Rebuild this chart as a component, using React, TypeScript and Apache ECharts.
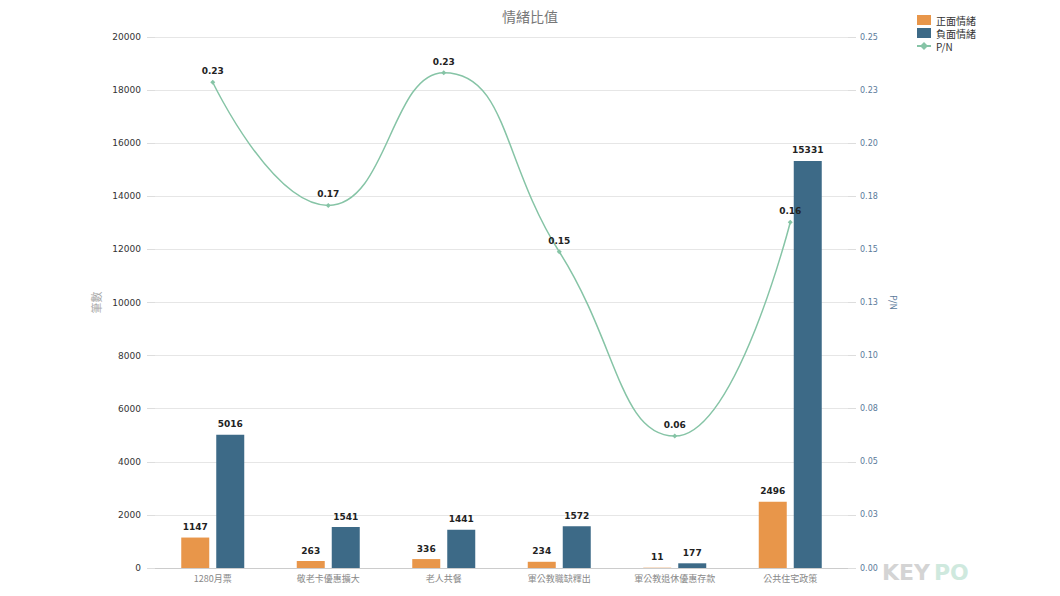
import React, { useEffect, useRef } from "react";
import * as echarts from "echarts";

const categories = ["1280月票", "敬老卡優惠擴大", "老人共餐", "軍公教職缺釋出", "軍公教退休優惠存款", "公共住宅政策"];
const positiveValues = [1147, 263, 336, 234, 11, 2496];
const negativeValues = [5016, 1541, 1441, 1572, 177, 15331];
const ratioValues = [0.2287, 0.1707, 0.2332, 0.1489, 0.0621, 0.1628];
const seriesNames = ["正面情緒", "負面情緒", "P/N"];

const fmt2 = (v: number) => (Math.round(v * 100 + 1e-6) / 100).toFixed(2);

export default function App() {
  const ref = useRef<HTMLDivElement>(null);
  useEffect(() => {
    const chart = echarts.init(ref.current!, undefined, { renderer: "svg" });
    const font = "'Noto Sans CJK TC', 'Noto Sans', sans-serif";
    const valueLabel = {
      show: true,
      position: "top",
      color: "#222",
      fontSize: 9,
      fontWeight: "bold",
      fontFamily: "'DejaVu Sans', sans-serif",
      distance: 6,
    };
    chart.setOption({
      animation: false,
      textStyle: { fontFamily: font },
      title: {
        text: "情緒比值",
        left: "center",
        top: 4,
        textStyle: { color: "#777", fontSize: 14, fontWeight: "normal" },
      },
      legend: {
        orient: "vertical",
        left: 911,
        top: 10,
        itemWidth: 14,
        itemHeight: 10,
        itemGap: 3,
        textStyle: { color: "#333", fontSize: 10 },
        data: [
          { name: seriesNames[0], icon: "rect" },
          { name: seriesNames[1], icon: "rect" },
          { name: seriesNames[2] },
        ],
      },
      grid: { left: 155, right: 212, top: 37, bottom: 28 },
      xAxis: {
        type: "category",
        data: categories,
        axisLine: { lineStyle: { color: "#ccc" } },
        axisTick: { lineStyle: { color: "#ccc" }, length: 6 },
        axisLabel: { color: "#888", fontSize: 9, margin: 6 },
      },
      yAxis: [
        {
          type: "value",
          name: "筆數",
          nameLocation: "middle",
          nameGap: 50,
          nameTextStyle: { color: "#aaa", fontSize: 11 },
          min: 0,
          max: 20000,
          interval: 2000,
          axisLine: { show: false },
          axisTick: { show: true, length: 8, lineStyle: { color: "#ddd" } },
          axisLabel: {
            color: "#333",
            fontSize: 9,
            margin: 14,
            fontFamily: "'DejaVu Sans', sans-serif",
            formatter: (v: number) => String(v),
          },
          splitLine: { lineStyle: { color: "#e6e6e6" } },
        },
        {
          type: "value",
          name: "P/N",
          nameLocation: "middle",
          nameGap: 32,
          nameRotate: -90,
          nameTextStyle: { color: "#5a7a9a", fontSize: 9 },
          min: 0,
          max: 0.25,
          interval: 0.025,
          axisLine: { show: false },
          axisTick: { show: true, length: 8, lineStyle: { color: "#ddd" } },
          axisLabel: {
            color: "#5a7a9a",
            fontSize: 8,
            margin: 12,
            fontFamily: "'DejaVu Sans', sans-serif",
            formatter: (v: number) => fmt2(v),
          },
          splitLine: { show: false },
        },
      ],
      series: [
        {
          name: seriesNames[0],
          type: "bar",
          data: positiveValues,
          barWidth: 28,
          barGap: "25%",
          itemStyle: { color: "#E8964A" },
          label: valueLabel,
        },
        {
          name: seriesNames[1],
          type: "bar",
          data: negativeValues,
          barWidth: 28,
          itemStyle: { color: "#3D6A87" },
          label: valueLabel,
        },
        {
          name: seriesNames[2],
          type: "line",
          yAxisIndex: 1,
          data: ratioValues,
          smooth: true,
          symbol: "diamond",
          symbolSize: 5,
          lineStyle: { color: "#86C4A6", width: 1.5 },
          itemStyle: { color: "#86C4A6" },
          label: {
            ...valueLabel,
            formatter: (p: any) => fmt2(Number(p.value)),
            distance: 4,
          },
        },
      ],
      graphic: [
        {
          type: "text",
          left: 882,
          top: 561,
          style: {
            text: "KEY",
            fill: "#d4d4d4",
            font: "bold 22px 'DejaVu Sans', sans-serif",
          },
        },
        {
          type: "text",
          left: 934,
          top: 561,
          style: {
            text: "PO",
            fill: "#cfe9de",
            font: "bold 22px 'DejaVu Sans', sans-serif",
          },
        },
      ],
    });
    return () => chart.dispose();
  }, []);
  return <div ref={ref} style={{ position: "fixed", left: 0, top: 0, width: 1060, height: 596, background: "#fff" }} />;
}
